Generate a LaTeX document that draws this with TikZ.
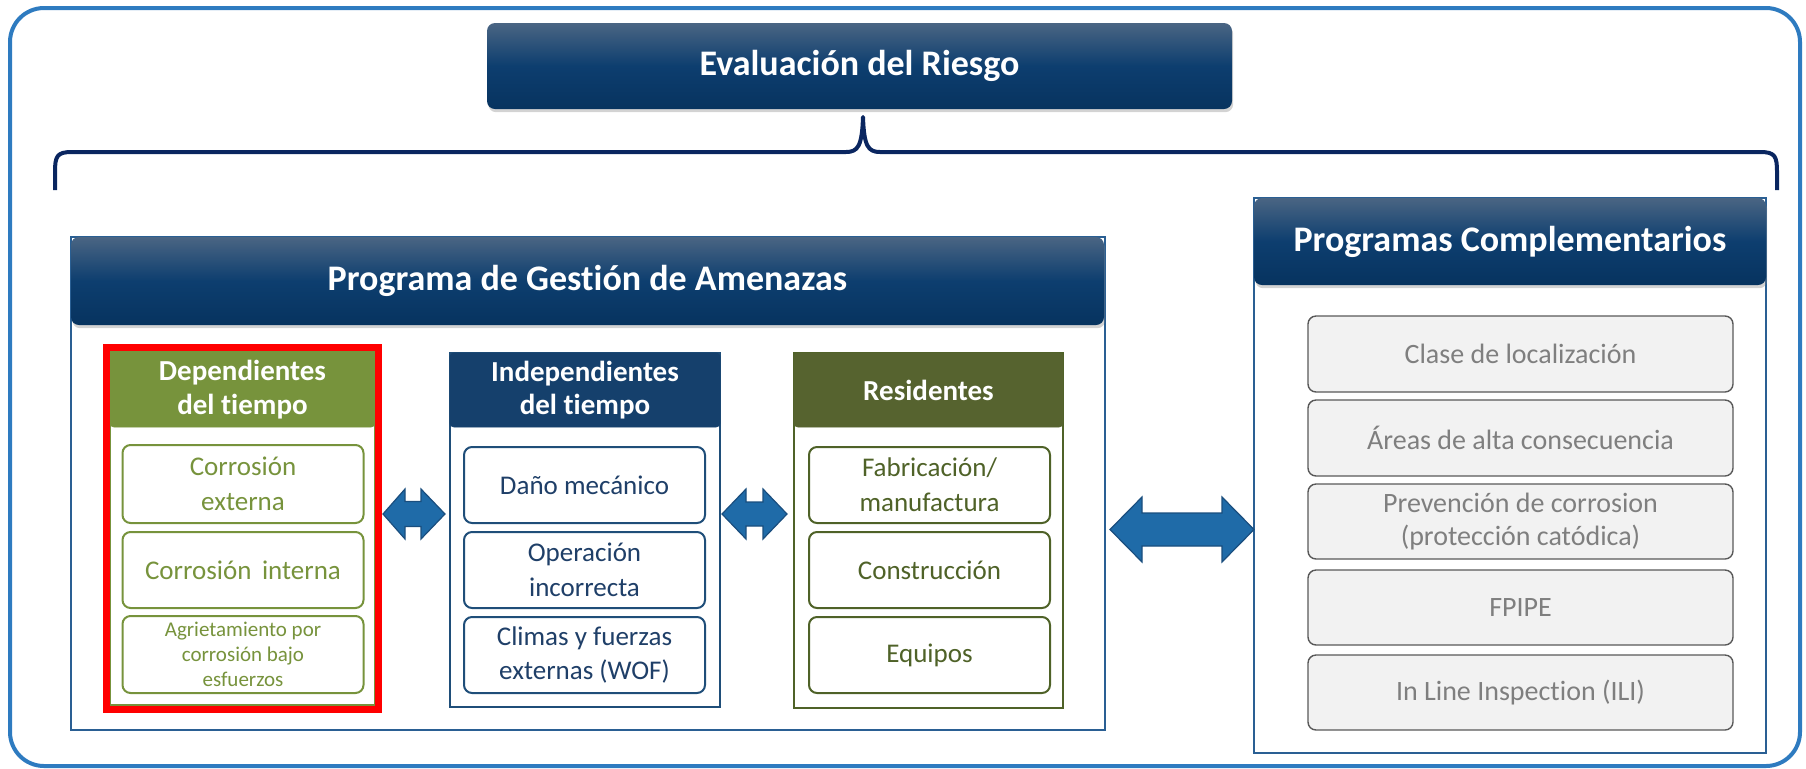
\documentclass[tikz,border=0pt]{standalone}
\usepackage{fontspec}
\setmainfont[Ligatures=NoCommon]{Carlito}
\usetikzlibrary{shadows}
\definecolor{frameblue}{HTML}{2E7BC0}
\definecolor{navymid}{HTML}{0D3E6F}
\definecolor{navytop}{HTML}{4A6583}
\definecolor{navybot}{HTML}{07335F}
\definecolor{bracec}{HTML}{0A2660}
\definecolor{dgreen}{HTML}{77933C}
\definecolor{indnavy}{HTML}{15406C}
\definecolor{indline}{HTML}{1F4E79}
\definecolor{indtext}{HTML}{1F3F68}
\definecolor{resolive}{HTML}{56632F}
\definecolor{restext}{HTML}{4F6228}
\definecolor{arrowfill}{HTML}{1F6BA8}
\definecolor{arrowline}{HTML}{1A4E7E}
\definecolor{itemgray}{HTML}{F2F2F2}
\definecolor{itemline}{HTML}{595959}
\definecolor{itemtext}{HTML}{7F7F7F}
\definecolor{contline}{HTML}{2A5F93}
\tikzset{
  mainhead/.style={rounded corners=4pt, top color=navytop, bottom color=navybot, middle color=navymid,
    drop shadow={shadow xshift=0.6pt, shadow yshift=-1.6pt, opacity=0.35},
    text=white, font=\bfseries\fontsize{18}{22}\selectfont, inner sep=0pt},
  container/.style={draw=contline, line width=1pt, inner sep=0pt},
  colbox/.style={draw=#1, line width=1pt, inner sep=0pt},
  colhead/.style={fill=#1, draw=#1, rounded corners=2pt, text=white, align=center,
    font=\bfseries\fontsize{14.5}{16.7}\selectfont, inner sep=0pt},
  item/.style={draw=#1, text=#1, line width=1pt, rounded corners=4pt, align=center, fill=white,
    font=\fontsize{13.5}{17.3}\selectfont, inner sep=0pt, minimum width=120.5pt},
  grayitem/.style={draw=itemline, fill=itemgray, text=itemtext, line width=0.7pt, rounded corners=4pt,
    align=center, font=\fontsize{14}{16.7}\selectfont, inner sep=0pt, minimum width=212.5pt, minimum height=37.5pt},
  blockarrow/.style={fill=arrowfill, draw=arrowline, line width=0.6pt, line join=miter},
}
\begin{document}
\begin{tikzpicture}[x=0.5pt,y=-0.5pt]
\useasboundingbox (0,0) rectangle (1806,768);
% outer frame
\draw[frameblue, line width=2pt, rounded corners=17pt] (10,8) rectangle (1800,766);

% top header
\node[mainhead, minimum width=372.5pt, minimum height=43pt] (eval) at (859.5,66) {Evaluación del Riesgo};

% brace
\draw[bracec, line width=2pt, line join=round]
  (55,190) -- (55,172) .. controls (55,156) and (57,152) .. (72,152) -- (846,152)
  .. controls (858,152) and (862,146) .. (863,117)
  .. controls (864,146) and (868,152) .. (880,152) -- (1760,152)
  .. controls (1775,152) and (1777,156) .. (1777,172) -- (1777,190);

% Programa de Gestion container
\node[container, minimum width=517pt, minimum height=246.5pt] (pgcont) at (588,483.5) {};
\node[mainhead, minimum width=516.5pt, minimum height=44pt] (pghead) at (587.5,281) {Programa de Gestión de Amenazas};

% Column A: dependientes
\node[colbox=dgreen, minimum width=132.5pt, minimum height=176.5pt] (colA) at (242.5,528.5) {};
\node[colhead=dgreen, minimum width=132.5pt, minimum height=37.5pt] (hA) at (242.5,389.5) {Dependientes\\del tiempo};
\node[item=dgreen, minimum height=39pt] (a1) at (243,484) {Corrosión\\externa};
\node[item=dgreen, minimum height=38pt] (a2) at (243,570) {Corrosión\, interna};
\node[item=dgreen, minimum height=38.5pt, font=\fontsize{10.5}{12.5}\selectfont] (a3) at (243,654.5) {Agrietamiento por\\corrosión bajo\\esfuerzos};
\node[draw=red, line width=3.5pt, minimum width=136pt, minimum height=181pt, inner sep=0pt] (hl) at (242,528) {};

% Column B: independientes
\node[colbox=indline, minimum width=135pt, minimum height=177pt] (colB) at (585,530) {};
\node[colhead=indnavy, minimum width=135pt, minimum height=37pt] (hB) at (585,390) {Independientes\\del tiempo};
\node[item=indline, text=indtext, minimum height=38pt] (b1) at (584.5,485) {Daño mecánico};
\node[item=indline, text=indtext, minimum height=38pt] (b2) at (584.5,570) {Operación\\incorrecta};
\node[item=indline, text=indtext, minimum height=38pt] (b3) at (584.5,655) {Climas y fuerzas\\externas (WOF)};

% Column C: residentes
\node[colbox=restext, minimum width=134.5pt, minimum height=177.5pt] (colC) at (928.5,530.5) {};
\node[colhead=resolive, minimum width=134.5pt, minimum height=37pt] (hC) at (928.5,390) {Residentes};
\node[item=restext, minimum height=38pt] (c1) at (929.5,485) {Fabricación/\\manufactura};
\node[item=restext, minimum height=38pt] (c2) at (929.5,570) {Construcción};
\node[item=restext, minimum height=38pt] (c3) at (929.5,655) {Equipos};

% Programas Complementarios
\node[container, minimum width=256pt, minimum height=277.5pt] (pccont) at (1510,475.5) {};
\node[mainhead, minimum width=256pt, minimum height=43.5pt] (pchead) at (1510,241.5) {Programas Complementarios};
\node[grayitem, minimum height=38pt] (g1) at (1520.5,354) {Clase de localización};
\node[grayitem, minimum height=38pt] (g2) at (1520.5,438) {Áreas de alta consecuencia};
\node[grayitem] (g3) at (1520.5,521.5) {Prevención de corrosion\\(protección catódica)};
\node[grayitem] (g4) at (1520.5,607.5) {FPIPE};
\node[grayitem] (g5) at (1520.5,692.5) {In Line Inspection (ILI)};

% block arrows
\draw[blockarrow] (383,514) -- (405,489) -- (405,501.5) -- (421,501.5) -- (421,489) -- (445,514)
  -- (421,539) -- (421,526.5) -- (405,526.5) -- (405,539) -- cycle;
\draw[blockarrow] (722,514) -- (746,489) -- (746,502) -- (763,502) -- (763,489) -- (787,514)
  -- (763,539) -- (763,526) -- (746,526) -- (746,539) -- cycle;
\draw[blockarrow] (1110,529.5) -- (1142,497) -- (1142,513) -- (1222,513) -- (1222,497) -- (1254,529.5)
  -- (1222,562) -- (1222,546) -- (1142,546) -- (1142,562) -- cycle;
\end{tikzpicture}
\end{document}
